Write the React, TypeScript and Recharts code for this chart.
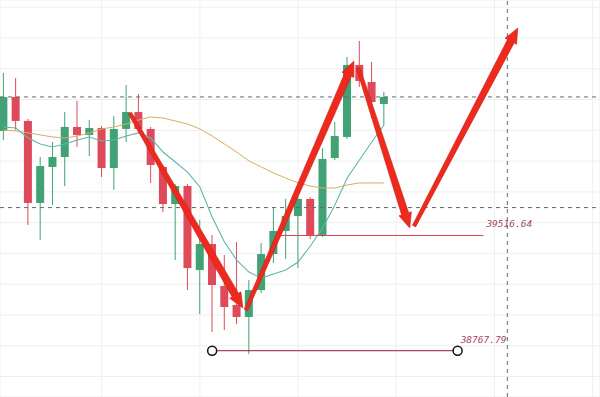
import { ComposedChart, Bar, Line, XAxis, YAxis, CartesianGrid, ReferenceLine, ReferenceDot } from 'recharts'

// candles (price units)
const opens = [40196, 40417, 40261, 39728, 39962, 40027, 40222, 40170, 40215, 39955, 40209, 40319, 40209, 39962, 39721, 39838, 39292, 39461, 39188, 39065, 38987, 39162, 39396, 39546, 39643, 39754, 39520, 40020, 40157, 40625, 40514, 40371]
const closes = [40417, 40261, 39728, 39968, 40027, 40222, 40170, 40215, 39955, 40209, 40319, 40209, 39975, 39721, 39838, 39305, 39461, 39195, 39052, 38987, 39162, 39396, 39546, 39643, 39754, 39520, 40014, 40163, 40625, 40521, 40384, 40417]
const highs = [40573, 40540, 40274, 40027, 40124, 40319, 40391, 40267, 40228, 40293, 40495, 40436, 40222, 39975, 39851, 39851, 39617, 39520, 39390, 39474, 39227, 39468, 39695, 39754, 39767, 39767, 40085, 40254, 40677, 40781, 40644, 40449]
const lows = [40137, 40202, 39585, 39487, 39715, 39838, 40092, 40033, 39897, 39812, 40124, 40189, 39858, 39669, 39357, 39162, 39006, 38889, 38902, 38941, 38746, 39142, 39338, 39364, 39305, 39494, 39507, 40007, 40144, 40482, 40280, 40235]

// moving averages as drawn
const maFast = [40222, 40215, 40150, 40111, 40092, 40111, 40137, 40157, 40131, 40137, 40163, 40183, 40150, 40059, 39994, 39929, 39832, 39637, 39474, 39357, 39279, 39240, 39266, 39292, 39344, 39448, 39565, 39715, 39890, 40007, 40124, 40235]
const maSlow = [40202, 40196, 40183, 40170, 40157, 40150, 40163, 40183, 40209, 40222, 40241, 40267, 40287, 40280, 40261, 40241, 40209, 40163, 40111, 40059, 40001, 39962, 39923, 39890, 39858, 39838, 39825, 39825, 39845, 39858, 39858, 39858]

const priceTicks = [38600, 38800, 39000, 39200, 39400, 39600, 39800, 40000, 40200, 40400, 40600, 40800, 41000]
const indexTicks = [0, 8, 16, 24, 32, 40, 48]

const lastPrice = 40417
const crossPrice = 39698
const crossIndex = 41.05

const resistance = 39516.64
const resistanceFrom = 22.3
const resistanceTo = 39.1
const support = 38767.79
const supportFrom = 17
const supportTo = 37

// hand-drawn arrows: [startIndex, startPrice, endIndex, endPrice]
const arrows = [
  [10.3, 40312, 19.5, 39045],
  [19.75, 39032, 28.55, 40650],
  [28.9, 40605, 33.1, 39565],
  [33.45, 39578, 41.9, 40865],
]

const GREEN = '#41a276'
const RED = '#de4a5a'
const ARROW = '#ee2a1e'

const data = opens.map((o, i) => ({
  i,
  open: o,
  close: closes[i],
  high: highs[i],
  low: lows[i],
  range: [lows[i], highs[i]],
  maFast: maFast[i],
  maSlow: maSlow[i],
}))

const Candle = (props: any) => {
  const { x, y, width, height, payload } = props
  const { open, close, high, low } = payload
  const color = close >= open ? GREEN : RED
  const top = Math.min(y, y + height)
  const h = Math.abs(height)
  const span = high - low || 1
  const py = (v: number) => top + ((high - v) / span) * h
  const bTop = py(Math.max(open, close))
  const bBot = py(Math.min(open, close))
  const cx = x + width / 2
  return (
    <g>
      <line x1={cx} x2={cx} y1={top} y2={top + h} stroke={color} strokeWidth={1} />
      <rect x={x} y={bTop} width={width} height={Math.max(1, bBot - bTop)} fill={color} />
    </g>
  )
}

const arrowShape = (props: any) => {
  const { x1, y1, x2, y2 } = props
  const dx = x2 - x1
  const dy = y2 - y1
  const len = Math.hypot(dx, dy) || 1
  const ux = dx / len
  const uy = dy / len
  const nx = -uy
  const ny = ux
  const headLen = 15
  const headW = 6.5
  const neck = 3.7
  const tail = 1.8
  const bx = x2 - ux * headLen
  const by = y2 - uy * headLen
  const pts = [
    [x1 + nx * tail, y1 + ny * tail],
    [bx + nx * neck, by + ny * neck],
    [bx + nx * headW, by + ny * headW],
    [x2, y2],
    [bx - nx * headW, by - ny * headW],
    [bx - nx * neck, by - ny * neck],
    [x1 - nx * tail, y1 - ny * tail],
  ]
  return <polygon points={pts.map((p) => p.join(',')).join(' ')} fill={ARROW} stroke="#c81e16" strokeWidth={0.6} />
}

const levelShape = (text: string, color: string) => (props: any) => {
  const { x1, y1, x2, y2 } = props
  return (
    <g>
      <line x1={x1} y1={y1} x2={x2} y2={y2} stroke={color} strokeWidth={1} />
      <text
        x={x2 + 3}
        y={y2 - 8}
        fontFamily="DejaVu Sans Mono"
        fontStyle="italic"
        fontSize={9.5}
        fill="#a3485a"
      >
        {text}
      </text>
    </g>
  )
}

export default function App() {
  return (
    <div style={{ position: 'absolute', left: 0, top: 0, background: '#fff' }}>
      <ComposedChart width={600} height={397} data={data} margin={{ top: 0, right: 0, bottom: 0, left: 0 }}>
        <CartesianGrid stroke="#efefef" />
        <XAxis dataKey="i" type="number" domain={[-0.285, 48.6]} ticks={indexTicks} allowDataOverflow hide />
        <YAxis type="number" domain={[38467, 41047]} ticks={priceTicks} allowDataOverflow hide />
        <ReferenceLine y={lastPrice} stroke="#5f6b6f" strokeDasharray="4 4" />
        <ReferenceLine y={crossPrice} stroke="#5f6b6f" strokeDasharray="4 4" />
        <ReferenceLine x={crossIndex} stroke="#5f6b6f" strokeDasharray="4 4" />
        <Bar dataKey="range" barSize={8} shape={<Candle />} activeBar={false} isAnimationActive={false} />
        <Line dataKey="maSlow" stroke="#d9ad62" strokeWidth={1} dot={false} activeDot={false} isAnimationActive={false} />
        <Line dataKey="maFast" stroke="#5fb6ad" strokeWidth={1.1} dot={false} activeDot={false} isAnimationActive={false} />
        <ReferenceLine
          segment={[{ x: resistanceFrom, y: resistance }, { x: resistanceTo, y: resistance }]}
          shape={levelShape(resistance.toFixed(2), '#d8434e')}
        />
        <ReferenceLine
          segment={[{ x: supportFrom, y: support }, { x: supportTo, y: support }]}
          shape={levelShape(support.toFixed(2), '#8e1e30')}
        />
        <ReferenceDot x={supportFrom} y={support} r={4.5} fill="#fff" stroke="#111" strokeWidth={1.5} />
        <ReferenceDot x={supportTo} y={support} r={4.5} fill="#fff" stroke="#111" strokeWidth={1.5} />
        {arrows.map((a, k) => (
          <ReferenceLine
            key={k}
            segment={[{ x: a[0], y: a[1] }, { x: a[2], y: a[3] }]}
            shape={arrowShape}
          />
        ))}
      </ComposedChart>
    </div>
  )
}
